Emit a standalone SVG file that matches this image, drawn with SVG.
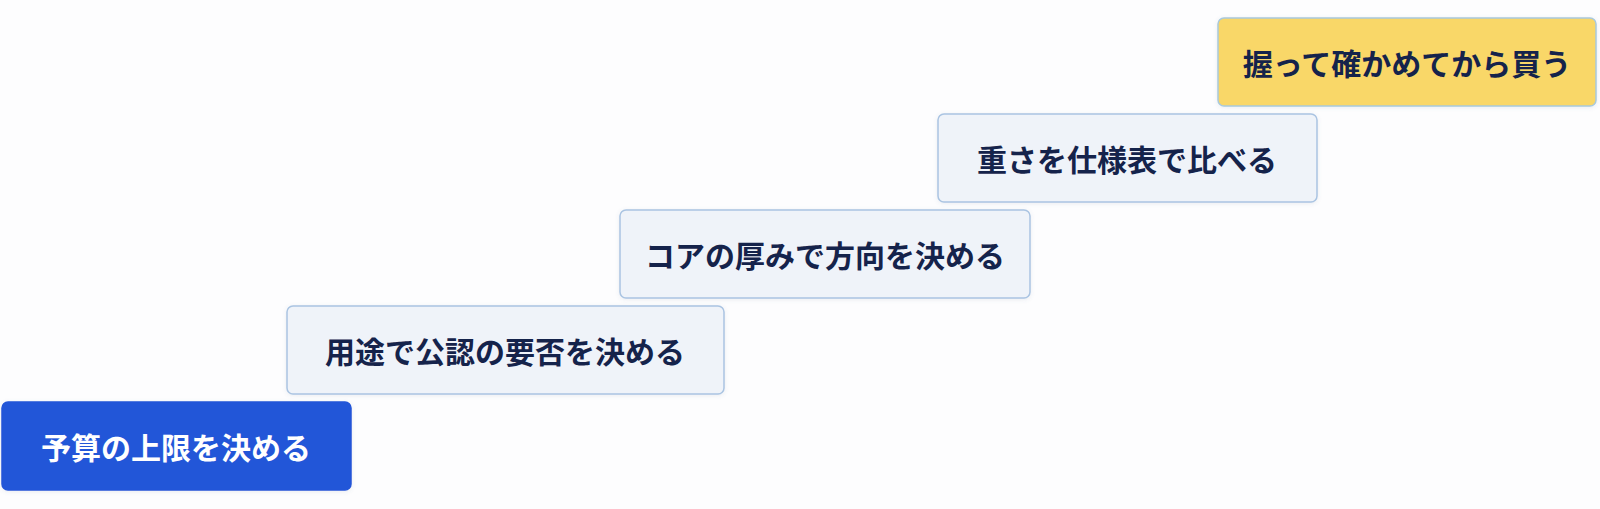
<svg xmlns="http://www.w3.org/2000/svg" width="1600" height="509" viewBox="0 0 1600 509">
  <defs>
    <filter id="sh" x="-5%" y="-20%" width="110%" height="140%">
      <feDropShadow dx="0" dy="1" stdDeviation="2" flood-color="#5a7090" flood-opacity="0.12"/>
    </filter>
  </defs>
  <style>
    .box { fill: #eff3f9; stroke: #aac4e2; stroke-width: 1.5; filter: url(#sh); }
    .start { fill: #2356d8; stroke: #2356d8; stroke-width: 1.5; filter: url(#sh); }
    .goal { fill: #f9d767; stroke: #a9c9dc; stroke-width: 1.5; filter: url(#sh); }
    .t { font-family: "Noto Sans CJK JP", "Noto Sans", sans-serif; font-size: 30px; font-weight: 700; text-anchor: middle; dominant-baseline: central; fill: #15234b; }
    .tw { fill: #ffffff; }
  </style>
  <rect width="1600" height="509" fill="#fdfdfe"/>
  <g id="connectors"></g>
  <g id="node1">
    <rect class="start" x="2" y="402" width="349" height="88" rx="6"/>
    <text class="t tw" x="176" y="446">予算の上限を決める</text>
  </g>
  <g id="node2">
    <rect class="box" x="287" y="306" width="437" height="88" rx="6"/>
    <text class="t" x="505" y="350">用途で公認の要否を決める</text>
  </g>
  <g id="node3">
    <rect class="box" x="620" y="210" width="410" height="88" rx="6"/>
    <text class="t" x="825" y="254">コアの厚みで方向を決める</text>
  </g>
  <g id="node4">
    <rect class="box" x="938" y="114" width="379" height="88" rx="6"/>
    <text class="t" x="1127" y="158">重さを仕様表で比べる</text>
  </g>
  <g id="node5">
    <rect class="goal" x="1218" y="18" width="378" height="88" rx="6"/>
    <text class="t" x="1407" y="62">握って確かめてから買う</text>
  </g>
</svg>
